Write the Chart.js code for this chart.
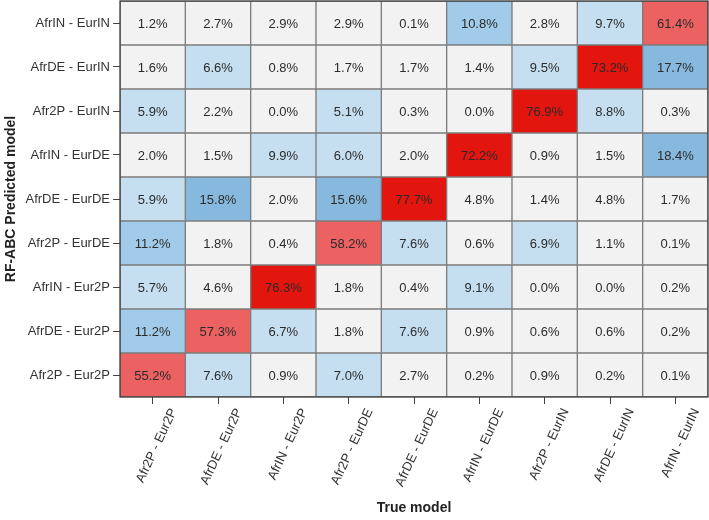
<!DOCTYPE html>
<html>
<head>
<meta charset="utf-8">
<script src="https://cdn.jsdelivr.net/npm/chart.js@4"></script>
<style>
  html, body { margin: 0; padding: 0; background: #fff; }
  #wrap { width: 709px; height: 520px; }
</style>
</head>
<body>
<div id="wrap"><canvas id="myChart"></canvas></div>
<script>
// true model (columns, left to right)
var trueModels = ['Afr2P - Eur2P', 'AfrDE - Eur2P', 'AfrIN - Eur2P', 'Afr2P - EurDE', 'AfrDE - EurDE',
                  'AfrIN - EurDE', 'Afr2P - EurIN', 'AfrDE - EurIN', 'AfrIN - EurIN'];
// predicted model (rows, bottom to top)
var predModels = ['Afr2P - Eur2P', 'AfrDE - Eur2P', 'AfrIN - Eur2P', 'Afr2P - EurDE', 'AfrDE - EurDE',
                  'AfrIN - EurDE', 'Afr2P - EurIN', 'AfrDE - EurIN', 'AfrIN - EurIN'];

// % per row (predicted), bottom row first
var rowAfr2PEur2P = [55.2, 7.6, 0.9, 7.0, 2.7, 0.2, 0.9, 0.2, 0.1];
var rowAfrDEEur2P = [11.2, 57.3, 6.7, 1.8, 7.6, 0.9, 0.6, 0.6, 0.2];
var rowAfrINEur2P = [5.7, 4.6, 76.3, 1.8, 0.4, 9.1, 0.0, 0.0, 0.2];
var rowAfr2PEurDE = [11.2, 1.8, 0.4, 58.2, 7.6, 0.6, 6.9, 1.1, 0.1];
var rowAfrDEEurDE = [5.9, 15.8, 2.0, 15.6, 77.7, 4.8, 1.4, 4.8, 1.7];
var rowAfrINEurDE = [2.0, 1.5, 9.9, 6.0, 2.0, 72.2, 0.9, 1.5, 18.4];
var rowAfr2PEurIN = [5.9, 2.2, 0.0, 5.1, 0.3, 0.0, 76.9, 8.8, 0.3];
var rowAfrDEEurIN = [1.6, 6.6, 0.8, 1.7, 1.7, 1.4, 9.5, 73.2, 17.7];
var rowAfrINEurIN = [1.2, 2.7, 2.9, 2.9, 0.1, 10.8, 2.8, 9.7, 61.4];

var rows = [rowAfr2PEur2P, rowAfrDEEur2P, rowAfrINEur2P, rowAfr2PEurDE, rowAfrDEEurDE,
            rowAfrINEurDE, rowAfr2PEurIN, rowAfrDEEurIN, rowAfrINEurIN];

function cellColor(v) {
  if (v >= 70) return '#e3150f';
  if (v >= 50) return '#ec6262';
  if (v >= 15) return '#87b9de';
  if (v >= 10) return '#a1cbe8';
  if (v >= 5) return '#c6dff0';
  return '#f2f2f2';
}

var FONT = "'Liberation Sans', Arial, sans-serif";

var datasets = rows.map(function (r, i) {
  return {
    label: predModels[i],
    pct: r,
    data: r.map(function () { return 1; }),
    backgroundColor: r.map(cellColor),
    borderColor: '#7d7d7d',
    borderWidth: 1,
    borderSkipped: false,
    barPercentage: 1,
    categoryPercentage: 1
  };
});

// writes the % in each cell
var cellText = {
  id: 'cellText',
  afterDatasetsDraw: function (chart) {
    var c = chart.ctx;
    c.save();
    c.font = '13px ' + FONT;
    c.fillStyle = '#2b2b2b';
    c.textAlign = 'center';
    c.textBaseline = 'middle';
    chart.data.datasets.forEach(function (ds, i) {
      chart.getDatasetMeta(i).data.forEach(function (el, j) {
        c.fillText(ds.pct[j].toFixed(1) + '%', el.x, (el.y + el.base) / 2 + 1);
      });
    });
    // frame round the plot
    var a = chart.chartArea;
    c.strokeStyle = '#3a3a3a';
    c.lineWidth = 1.3;
    c.strokeRect(a.left, a.top, a.right - a.left, a.bottom - a.top);
    c.restore();
  }
};

new Chart(document.getElementById('myChart'), {
  type: 'bar',
  data: { labels: trueModels, datasets: datasets },
  options: {
    responsive: true,
    maintainAspectRatio: false,
    animation: false,
    layout: { padding: { top: 1, right: 1, left: 0, bottom: 0 } },
    plugins: { legend: { display: false }, tooltip: { enabled: false } },
    scales: {
      x: {
        stacked: true,
        afterFit: function (s) { s.height = 123; s.paddingLeft = 0; s.paddingRight = 0; },
        grid: { offset: false, drawOnChartArea: false, tickLength: 7, color: '#444' },
        border: { display: false },
        ticks: {
          minRotation: 65, maxRotation: 65, padding: 2, labelOffset: 21,
          color: '#333', font: { family: FONT, size: 13 }
        },
        title: {
          display: true, text: 'True model', color: '#222',
          font: { family: FONT, size: 14, weight: 'bold' }, padding: { top: 0, bottom: 3 }
        }
      },
      y: {
        stacked: true,
        min: 0, max: 9,
        afterFit: function (s) { s.width = 120; s.paddingTop = 0; s.paddingBottom = 0; },
        afterBuildTicks: function (s) {
          s.ticks = predModels.map(function (_, i) { return { value: i + 0.5 }; });
        },
        grid: { drawOnChartArea: false, tickLength: 7, color: '#444' },
        border: { display: false },
        ticks: {
          padding: 3, color: '#333', font: { family: FONT, size: 13 },
          callback: function (v, i) { return predModels[i]; }
        },
        title: {
          display: true, text: 'RF-ABC Predicted model', color: '#222',
          font: { family: FONT, size: 14, weight: 'bold' }, padding: { top: 3, bottom: 0 }
        }
      }
    }
  },
  plugins: [cellText]
});
</script>
</body>
</html>
